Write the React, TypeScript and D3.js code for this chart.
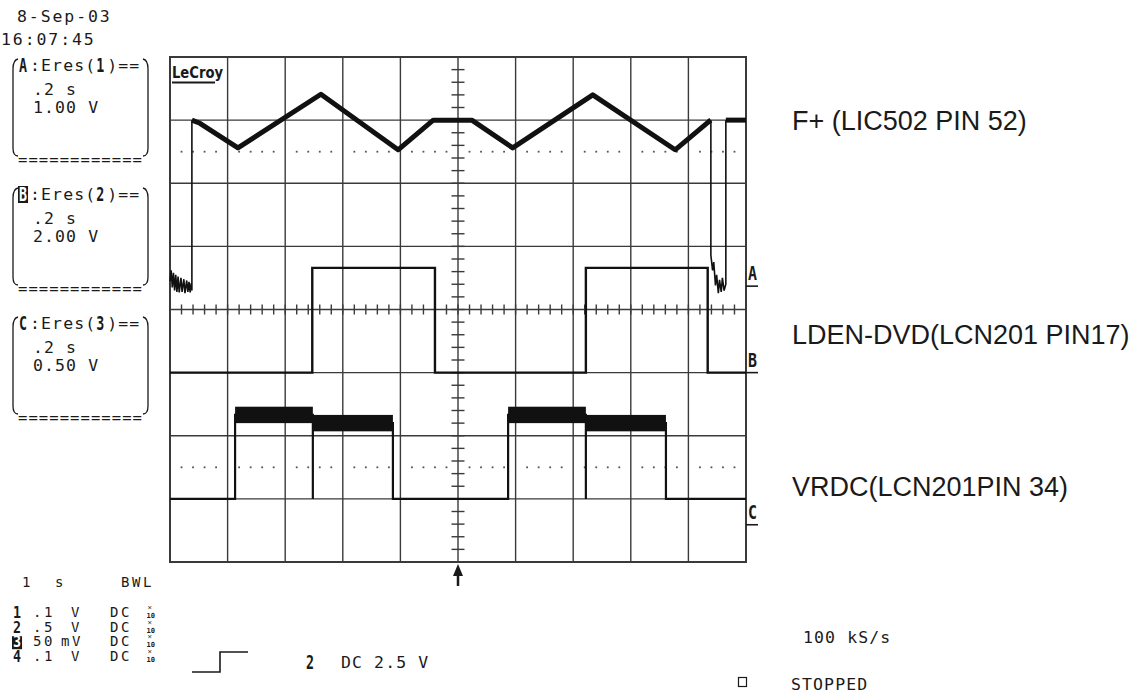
import React from 'react';
import * as d3 from 'd3';

// ---------- data (screen divisions: x 0..10, y -4..4) ----------
const traceANoiseLeft: [number, number][] = [
  [0, 0.45], [0.02, 0.62], [0.04, 0.35], [0.06, 0.58], [0.08, 0.3], [0.1, 0.55], [0.12, 0.28],
  [0.14, 0.52], [0.16, 0.27], [0.19, 0.5], [0.21, 0.28], [0.24, 0.48], [0.26, 0.26], [0.29, 0.46],
  [0.31, 0.28], [0.33, 0.44], [0.35, 0.27], [0.37, 0.42], [0.38, 0.3], [0.38, 3.0],
];
const traceAWave1: [number, number][] = [
  [0.38, 3.0], [0.52, 2.95], [1.18, 2.56], [2.62, 3.41], [3.96, 2.53], [4.57, 3.0], [5.24, 3.0],
  [5.95, 2.56], [7.34, 3.4], [8.77, 2.53], [9.36, 2.98], [9.39, 3.0],
];
const traceANoiseRight: [number, number][] = [
  [9.39, 3.0], [9.39, 0.86], [9.42, 0.62], [9.44, 0.75], [9.47, 0.38], [9.49, 0.55], [9.52, 0.26],
  [9.54, 0.47], [9.57, 0.28], [9.59, 0.5], [9.62, 0.3], [9.65, 0.4], [9.65, 3.0],
];
const traceAWave2: [number, number][] = [[9.65, 3.0], [10, 3.0]];
const traceB: [number, number][] = [
  [0, -1], [2.47, -1], [2.47, 0.66], [4.6, 0.66], [4.6, -1], [7.22, -1], [7.22, 0.66],
  [9.335, 0.66], [9.335, -1], [10, -1],
];
const traceC: [number, number][] = [
  [0, -3], [1.13, -3], [1.13, -1.67], [2.48, -1.67], [2.48, -3], [2.48, -1.8], [3.87, -1.8],
  [3.87, -3], [5.87, -3], [5.87, -1.67], [7.22, -1.67], [7.22, -3], [7.22, -1.8], [8.61, -1.8],
  [8.61, -3], [10, -3],
];
// noisy bands of trace C: [t0, t1, low, high]
const bandsC: [number, number, number, number][] = [
  [1.13, 2.48, -1.8, -1.54],
  [2.48, 3.87, -1.93, -1.67],
  [5.87, 7.22, -1.8, -1.54],
  [7.22, 8.61, -1.93, -1.67],
];
const dottedLevels = [2.5, -2.5];
const groundMarkers: [string, number][] = [['A', 0.37], ['B', -1.0], ['C', -3.41]];
const signalLabels: [string, number][] = [
  ['F+ (LIC502 PIN 52)', 2.99],
  ['LDEN-DVD(LCN201 PIN17)', -0.4],
  ['VRDC(LCN201PIN 34)', -2.81],
];
const channelBoxes = [
  { letter: 'A', num: '1', time: '.2 s', volts: '1.00 V', inverse: false },
  { letter: 'B', num: '2', time: '.2 s', volts: '2.00 V', inverse: true },
  { letter: 'C', num: '3', time: '.2 s', volts: '0.50 V', inverse: false },
];
const chanRows = [
  { ch: '1', val: '.1', unit: 'V', inverse: false },
  { ch: '2', val: '.5', unit: 'V', inverse: false },
  { ch: '3', val: '50', unit: 'mV', inverse: true },
  { ch: '4', val: '.1', unit: 'V', inverse: false },
];

// ---------- layout ----------
const W = 1143, H = 698;
const L = 170, R = 746, T = 57, B = 562;
const x = d3.scaleLinear().domain([0, 10]).range([L, R]);
const y = d3.scaleLinear().domain([-4, 4]).range([B, T]);
const line = d3.line<[number, number]>().x(d => x(d[0])).y(d => y(d[1]));

const MONO = "'DejaVu Sans Mono', 'Liberation Mono', monospace";
const FS = 16.5;
const LS = 1.1;
const P = FS * 0.602 + LS;
const INK = '#1a1a1a';
const GRIDC = '#3a3a3a';

const monoStyle: React.CSSProperties = { fontFamily: MONO, fontSize: FS, letterSpacing: LS, fill: INK };
const dateStyle: React.CSSProperties = { fontFamily: MONO, fontSize: FS, letterSpacing: 1.9, fill: INK };
const rowStyle: React.CSSProperties = { fontFamily: MONO, fontSize: 14, letterSpacing: 2.6, fill: INK };

function Bold({ x: bx, y: by, ch, inverse, size = 20, h = 17 }: { x: number; y: number; ch: string; inverse?: boolean; size?: number; h?: number }) {
  return (
    <g>
      {inverse && <rect x={bx - 1} y={by - h + 2} width={P - 1} height={h} fill={INK} />}
      <text x={bx} y={by} textLength={P - 3} lengthAdjust="spacingAndGlyphs"
        style={{ fontFamily: MONO, fontSize: size, fontWeight: 'bold', fill: inverse ? '#fff' : INK }}>{ch}</text>
    </g>
  );
}

function ChannelBox({ yc, letter, num, time, volts, inverse }: any) {
  const x0 = 19;
  const base = yc + 6;
  const frame = (xa: number, xb: number) =>
    `M${xb},${yc - 6} Q${xa},${yc - 5} ${xa},${yc + 4} V${yc + 83} Q${xa},${yc + 91} ${xb},${yc + 91}`;
  return (
    <g>
      <path d={frame(13, 18)} fill="none" stroke={INK} strokeWidth={1.3} />
      <path d={frame(148, 143)} fill="none" stroke={INK} strokeWidth={1.3} />
      <Bold x={x0} y={base + 1} ch={letter} inverse={inverse} />
      <text x={x0 + P} y={base} style={monoStyle}>:Eres(</text>
      <Bold x={x0 + 7 * P} y={base + 1} ch={num} />
      <text x={x0 + 8 * P} y={base} style={monoStyle}>)==</text>
      <text x={33} y={base + 24} style={monoStyle}>{time}</text>
      <text x={33} y={base + 42} style={monoStyle}>{volts}</text>
      <text x={18} y={base + 89 + 5} textLength={125} lengthAdjust="spacingAndGlyphs" style={monoStyle}>============</text>
    </g>
  );
}

export default function App() {
  const vLines = d3.range(1, 10).map(i => x(i));
  const hLines = d3.range(-3, 4).map(v => y(v));
  const xTicks = d3.range(0, 50.01, 1).map(i => x(i / 5));
  const yTicks = d3.range(-20, 20.01, 1).map(i => y(i / 5));
  const dots: [number, number][] = [];
  dottedLevels.forEach(lv => {
    for (let d = 0; d < 10; d++) for (let k = 1; k < 5; k++) dots.push([d + k / 5, lv]);
  });

  return (
    <svg width={W} height={H} viewBox={`0 0 ${W} ${H}`}
      style={{ position: 'fixed', left: 0, top: 0, background: '#fff' }}>
      {/* grid */}
      <g stroke={GRIDC} strokeWidth={1.4}>
        {vLines.map((vx, i) => <line key={'v' + i} x1={vx} x2={vx} y1={T} y2={B} />)}
        {hLines.map((hy, i) => <line key={'h' + i} x1={L} x2={R} y1={hy} y2={hy} />)}
        {xTicks.map((tx, i) => <line key={'xt' + i} x1={tx} x2={tx} y1={y(0) - 5} y2={y(0) + 5} />)}
        {yTicks.map((ty, i) => <line key={'yt' + i} x1={x(5) - 6.5} x2={x(5) + 6.5} y1={ty} y2={ty} />)}
      </g>
      {dots.map((d, i) => <rect key={'d' + i} x={x(d[0]) - 0.9} y={y(d[1]) - 0.9} width={1.8} height={1.8} fill="#555" />)}
      <rect x={L} y={T} width={R - L} height={B - T} fill="none" stroke={GRIDC} strokeWidth={2} />

      {/* LeCroy logo */}
      <rect x={171} y={59} width={54} height={26} fill="#fff" />
      <text x={172} y={78} textLength={51} lengthAdjust="spacingAndGlyphs"
        style={{ fontFamily: "'DejaVu Sans', sans-serif", fontSize: 16, fontWeight: 'bold', fill: INK }}>LeCroy</text>
      <line x1={172} x2={215} y1={82.5} y2={82.5} stroke={INK} strokeWidth={1.8} />

      {/* traces */}
      {bandsC.map((b, i) => (
        <rect key={'b' + i} x={x(b[0])} y={y(b[3])} width={x(b[1]) - x(b[0])} height={y(b[2]) - y(b[3])} fill="#111" />
      ))}
      <path d={line(traceC) || ''} fill="none" stroke="#111" strokeWidth={2.2} />
      <path d={line(traceB) || ''} fill="none" stroke="#111" strokeWidth={2.4} />
      <path d={line(traceANoiseLeft) || ''} fill="none" stroke="#111" strokeWidth={1.6} />
      <path d={line(traceANoiseRight) || ''} fill="none" stroke="#111" strokeWidth={1.6} />
      <path d={line(traceAWave1) || ''} fill="none" stroke="#111" strokeWidth={5} strokeLinejoin="round" />
      <path d={line(traceAWave2) || ''} fill="none" stroke="#111" strokeWidth={5} />

      {/* ground markers */}
      {groundMarkers.map(([lab, v]) => (
        <g key={lab}>
          <text x={748} y={y(v) - 6} textLength={9} lengthAdjust="spacingAndGlyphs"
            style={{ fontFamily: MONO, fontSize: 20, fontWeight: 'bold', fill: INK }}>{lab}</text>
          <line x1={746} x2={758} y1={y(v)} y2={y(v)} stroke={INK} strokeWidth={1.6} />
        </g>
      ))}

      {/* trigger arrow */}
      <line x1={x(5)} x2={x(5)} y1={B + 8} y2={B + 24} stroke={INK} strokeWidth={2.5} />
      <path d={`M${x(5) - 5},${B + 14} L${x(5)},${B + 2} L${x(5) + 5},${B + 14} Z`} fill={INK} />

      {/* signal labels */}
      {signalLabels.map(([lab, v]) => (
        <text key={lab} x={792} y={y(v) + 9}
          style={{ fontFamily: "'Liberation Sans', Arial, sans-serif", fontSize: 27, fill: INK }}>{lab}</text>
      ))}

      {/* top-left date */}
      <text x={17} y={22} style={dateStyle}>8-Sep-03</text>
      <text x={1} y={45} style={dateStyle}>16:07:45</text>

      {channelBoxes.map((c, i) => <ChannelBox key={c.letter} yc={65 + i * 129} {...c} />)}

      {/* bottom-left settings */}
      <text y={587} style={rowStyle}>
        <tspan x={22}>1</tspan><tspan x={55}>s</tspan><tspan x={121}>BWL</tspan>
      </text>
      {chanRows.map((r, i) => {
        const by = 617 + i * 14.6;
        return (
          <g key={r.ch}>
            <Bold x={13} y={by + 1} ch={r.ch} inverse={r.inverse} size={16} h={13} />
            <text y={by} style={rowStyle}>
              <tspan x={33}>{r.val}</tspan>
              <tspan x={r.unit === 'mV' ? 61 : 71}>{r.unit}</tspan>
              <tspan x={110}>DC</tspan>
            </text>
            <text x={147.5} y={by - 7} style={{ fontFamily: MONO, fontSize: 7.5, fill: INK }}>×</text>
            <text x={146.5} y={by + 1} textLength={8.5} lengthAdjust="spacingAndGlyphs"
              style={{ fontFamily: MONO, fontSize: 7, fontWeight: 'bold', fill: INK }}>10</text>
          </g>
        );
      })}

      {/* trigger symbol */}
      <path d="M192,672 H220 V652 H248" fill="none" stroke={INK} strokeWidth={1.6} />
      <Bold x={306} y={669} ch="2" size={19} />
      <text x={341} y={668} style={monoStyle}>DC 2.5 V</text>

      {/* bottom-right */}
      <text x={803} y={643} style={monoStyle}>100 kS/s</text>
      <rect x={738.5} y={677.5} width={8} height={9} fill="none" stroke={INK} strokeWidth={1.2} />
      <text x={791} y={690} style={monoStyle}>STOPPED</text>
    </svg>
  );
}
